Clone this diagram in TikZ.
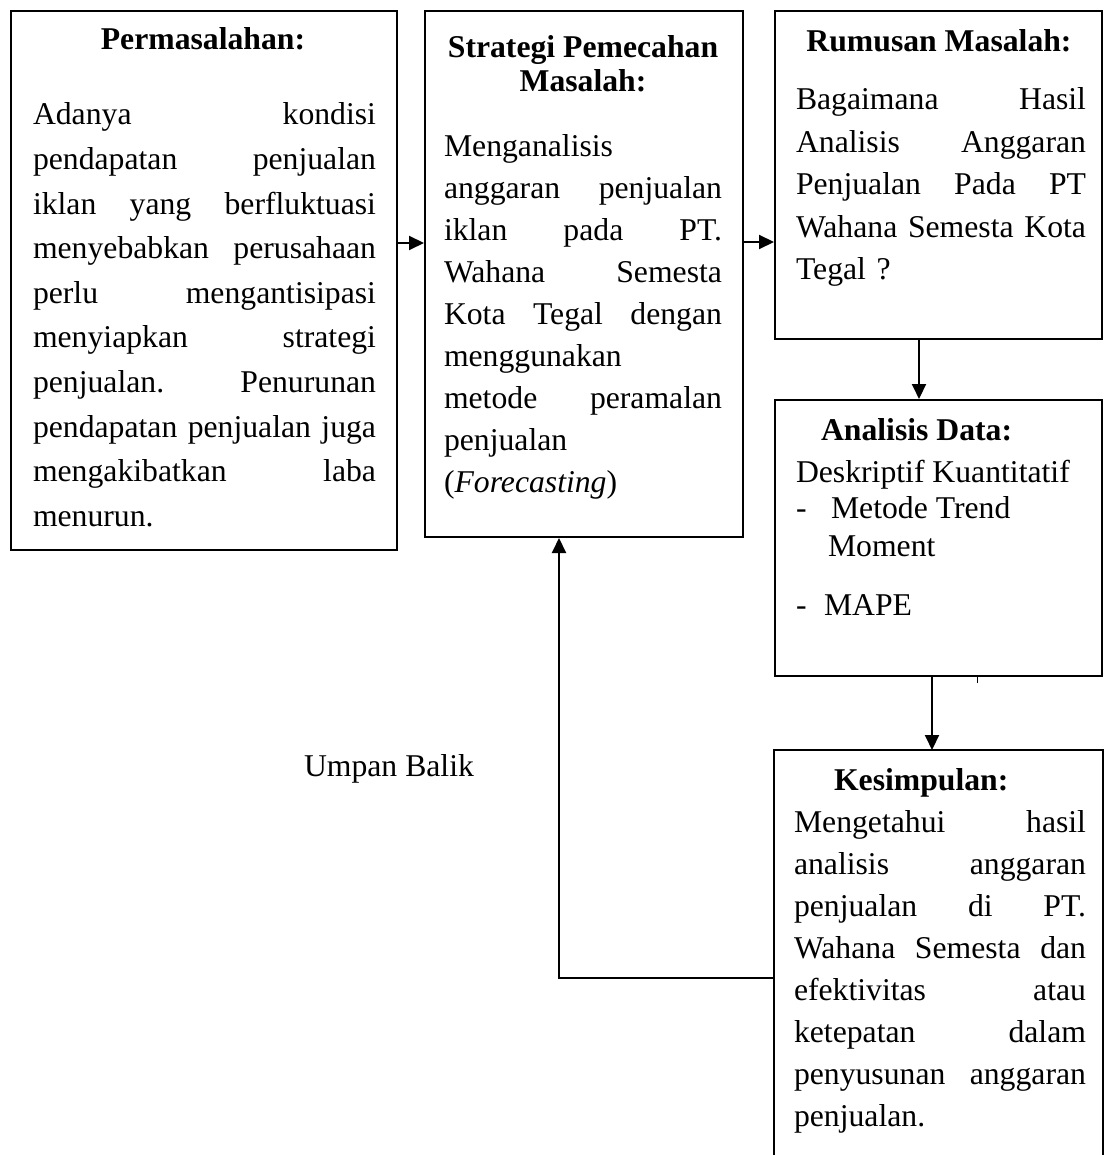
\documentclass[tikz,border=0pt]{standalone}
\usepackage{fontspec}
\setmainfont{Liberation Serif}
\usetikzlibrary{arrows.meta}
\newcommand\jl[1]{\noindent\hbox to\hsize{#1}}
\begin{document}
\begin{tikzpicture}[x=1pt,y=-1pt,line width=2pt,
  box/.style={draw,line width=2pt,inner sep=0pt,anchor=north west},
  txt/.style={inner sep=0pt,anchor=base west,align=left,font=\fontsize{31.7}{42}\selectfont},
  line/.style={inner sep=0pt,anchor=base west,font=\fontsize{31.7}{42}\selectfont},
  ttl/.style={inner sep=0pt,anchor=base,font=\fontsize{31.7}{34}\selectfont\bfseries},
  ttlw/.style={inner sep=0pt,anchor=base west,font=\fontsize{31.7}{34}\selectfont\bfseries},
  arr/.style={-{Triangle[length=15pt,width=14pt]},line width=2pt}]
\useasboundingbox (0,0) rectangle (1103,1155);

% boxes
\node[box,minimum width=386pt,minimum height=539pt] (b1) at (10,10) {};
\node[box,minimum width=318pt,minimum height=526pt] (b2) at (424,10) {};
\node[box,minimum width=327pt,minimum height=328pt] (b3) at (774,10) {};
\node[box,minimum width=327pt,minimum height=276pt] (b4) at (774,399) {};
\node[inner sep=0pt,anchor=north west,minimum width=327pt,minimum height=405pt] (b5) at (774,750) {};
\draw (b5.south west) -- (b5.north west) -- (b5.north east) -- (b5.south east);

% box 1
\node[ttl] (t1) at (203,50) {Permasalahan:};
\node[txt,text width=343pt,font=\fontsize{31.7}{44.6}\selectfont] (x1) at (32,125) {%
\jl{Adanya\hfill kondisi}\\
\jl{pendapatan\hfill penjualan}\\
\jl{iklan\hfill yang\hfill berfluktuasi}\\
\jl{menyebabkan\hfill perusahaan}\\
\jl{perlu\hfill mengantisipasi}\\
\jl{menyiapkan\hfill strategi}\\
\jl{penjualan.\hfill Penurunan}\\
\jl{pendapatan\hfill penjualan\hfill juga}\\
\jl{mengakibatkan\hfill laba}\\
menurun.};

% box 2
\node[ttl] (t2a) at (583,58) {Strategi Pemecahan};
\node[ttl] (t2b) at (583,92) {Masalah:};
\node[txt,text width=278pt] (x2) at (443,157) {%
Menganalisis\\
\jl{anggaran\hfill penjualan}\\
\jl{iklan\hfill pada\hfill PT.}\\
\jl{Wahana\hfill Semesta}\\
\jl{Kota\hfill Tegal\hfill dengan}\\
menggunakan\\
\jl{metode\hfill peramalan}\\
penjualan\\
(\textit{Forecasting})};

% box 3
\node[ttl] (t3) at (939,52) {Rumusan Masalah:};
\node[txt,text width=290pt,font=\fontsize{31.7}{42.5}\selectfont] (x3) at (795,110) {%
\jl{Bagaimana\hfill Hasil}\\
\jl{Analisis\hfill Anggaran}\\
\jl{Penjualan\hfill Pada\hfill PT}\\
\jl{Wahana\hfill Semesta\hfill Kota}\\
Tegal ?};

% box 4
\node[ttlw] (t4) at (820,440) {Analisis Data:};
\node[line] (l4a) at (795,482) {Deskriptif Kuantitatif};
\node[line] (d4a) at (795,518) {-};
\node[line] (l4b) at (830,518) {Metode Trend};
\node[line] (l4c) at (827,556) {Moment};
\node[line] (d4b) at (795,615) {-};
\node[line] (l4d) at (823,615) {MAPE};

% box 5
\node[ttlw] (t5) at (833,790) {Kesimpulan:};
\node[txt,text width=292pt,font=\fontsize{31.7}{42.1}\selectfont] (x5) at (793,832) {%
\jl{Mengetahui\hfill hasil}\\
\jl{analisis\hfill anggaran}\\
\jl{penjualan\hfill di\hfill PT.}\\
\jl{Wahana\hfill Semesta\hfill dan}\\
\jl{efektivitas\hfill atau}\\
\jl{ketepatan\hfill dalam}\\
\jl{penyusunan\hfill anggaran}\\
penjualan.};

% feedback label
\node[line] (ub) at (303,776) {Umpan Balik};

% connectors
\coordinate (p12) at ([yshift=37.5pt]b1.east);
\draw[arr] (p12) -- (p12 -| b2.west);
\coordinate (p23) at ([yshift=32pt]b2.east);
\draw[arr] (p23) -- (p23 -| b3.west);
\coordinate (p34) at ([xshift=-19.5pt]b3.south);
\draw[arr] (p34) -- (p34 |- b4.north);
\coordinate (p45) at ([xshift=-6.5pt]b4.south);
\draw[arr] (p45) -- (p45 |- b5.north);
\coordinate (p5) at ([yshift=-24.5pt]b5.west);
\coordinate (fb) at ([xshift=-25pt]b2.south);
\draw[arr] (p5) -- (p5 -| fb) -- (fb);
\coordinate (tk) at ([xshift=38.5pt]b4.south);
\draw[line width=1pt] (tk) -- ++(0,6);
\end{tikzpicture}
\end{document}
